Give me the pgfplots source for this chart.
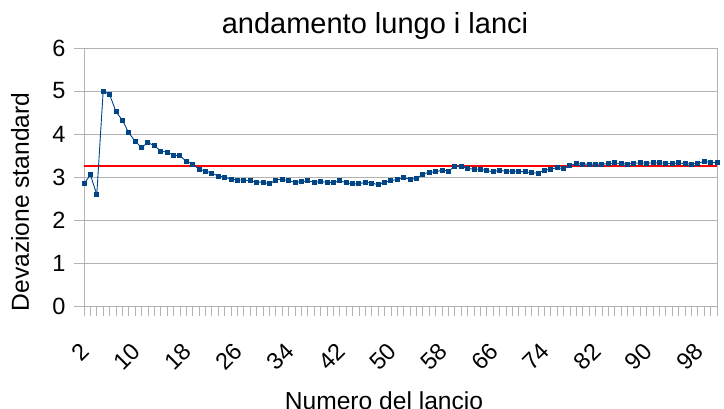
\documentclass[border=0pt]{standalone}
\usepackage{fontspec}
\setmainfont{Liberation Sans}
\usepackage{pgfplots}
\pgfplotsset{compat=1.18}
\usepackage{pgfplotstable}
\definecolor{serie}{HTML}{004586}
\definecolor{griglia}{HTML}{B3B3B3}

\pgfplotstableread{
lancio dev
2 2.84
3 3.05
4 2.59
5 5.00
6 4.92
7 4.52
8 4.32
9 4.03
10 3.83
11 3.69
12 3.80
13 3.73
14 3.60
15 3.58
16 3.51
17 3.49
18 3.37
19 3.30
20 3.18
21 3.14
22 3.09
23 3.02
24 3.00
25 2.95
26 2.93
27 2.93
28 2.91
29 2.88
30 2.88
31 2.84
32 2.93
33 2.95
34 2.91
35 2.88
36 2.89
37 2.91
38 2.88
39 2.89
40 2.88
41 2.87
42 2.91
43 2.87
44 2.84
45 2.84
46 2.88
47 2.86
48 2.82
49 2.88
50 2.91
51 2.95
52 2.98
53 2.95
54 2.96
55 3.07
56 3.11
57 3.12
58 3.16
59 3.14
60 3.24
61 3.24
62 3.20
63 3.18
64 3.18
65 3.15
66 3.12
67 3.16
68 3.13
69 3.14
70 3.13
71 3.12
72 3.10
73 3.09
74 3.16
75 3.18
76 3.22
77 3.19
78 3.27
79 3.31
80 3.30
81 3.30
82 3.30
83 3.30
84 3.31
85 3.33
86 3.31
87 3.30
88 3.32
89 3.33
90 3.32
91 3.33
92 3.33
93 3.32
94 3.31
95 3.33
96 3.31
97 3.30
98 3.32
99 3.36
100 3.34
101 3.33
}\datitab

\begin{document}
\begin{tikzpicture}[x=1pt,y=1pt]
\useasboundingbox (-84,-102) rectangle (640,306);
\begin{axis}[
    at={(0,0)}, anchor=south west,
    scale only axis,
    width=633pt, height=258pt,
    xmin=2, xmax=101,
    ymin=0, ymax=6,
    xtick={2,10,...,98},
    minor xtick={2,...,101},
    ytick={0,...,6},
    xtick pos=bottom, ytick pos=left,
    tick align=outside,
    major tick length=10pt,
    minor tick length=10pt,
    tick style={griglia, line width=0.8pt},
    axis line style={griglia, line width=0.8pt},
    ymajorgrids=true,
    grid style={griglia, line width=0.8pt},
    /pgf/number format/assume math mode=true,
    tick label style={font=\fontsize{23.5}{26}\selectfont, text=black},
    xticklabel style={rotate=45, anchor=east, xshift=-18pt, yshift=-23pt},
    yticklabel style={xshift=-5pt},
    clip=false,
]
\addplot[red, line width=2pt] coordinates {(2,3.25) (101,3.25)};
\addplot[serie, line width=0.9pt, mark=square*, mark size=2pt,
    mark options={fill=serie, draw=serie}] table[x=lancio, y=dev] {\datitab};
\end{axis}
\node[font=\fontsize{29}{32}\selectfont, anchor=base] at (291,273) {andamento lungo i lanci};
\node[font=\fontsize{24.6}{28}\selectfont, rotate=90, anchor=base] at (-55,104) {Devazione standard};
\node[font=\fontsize{24.6}{28}\selectfont, anchor=base] at (300,-103) {Numero del lancio};
\end{tikzpicture}
\end{document}
